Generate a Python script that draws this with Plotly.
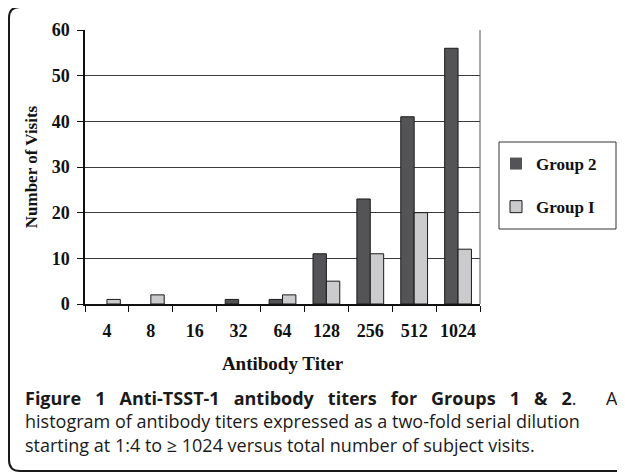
import plotly.graph_objects as go

titers = ["4", "8", "16", "32", "64", "128", "256", "512", "1024"]
group2 = [0, 0, 0, 1, 1, 11, 23, 41, 56]
group1 = [1, 2, 0, 0, 2, 5, 11, 20, 12]
y_ticks = [0, 10, 20, 30, 40, 50, 60]

caption_line1_words = ["Figure", "1", "Anti-TSST-1", "antibody", "titers", "for",
                       "Groups", "1", "&amp;", "2"]
caption_line1_end = "A"
caption_line2 = "histogram of antibody titers expressed as a two-fold serial dilution"
caption_line3 = "starting at 1:4 to ≥ 1024 versus total number of subject visits."

# page coordinates (body has an 8px margin)
OFF = 8
PW, PH = 625, 473
L, R, T, B = 85, 480, 30, 304
W, H = PW - OFF, PH - OFF

def px(x):
    return (x - L) / (R - L)

def py(y):
    return (B - y) / (B - T)

serif = "Liberation Serif"
ink = "#111111"

def outline(vals):
    return [1 if v > 0 else 0 for v in vals]

fig = go.Figure()
fig.add_trace(go.Bar(x=titers, y=group2, name="<b>Group 2</b>",
                     marker=dict(color="#545456", line=dict(color="#1a1a1a", width=outline(group2))),
                     legendgroup="a"))
fig.add_trace(go.Bar(x=titers, y=group1, name="<b>Group I</b>",
                     marker=dict(color="#cbcbcd", line=dict(color="#1a1a1a", width=outline(group1))),
                     legendgroup="b"))

shapes = []
shapes.append(dict(type="line", xref="paper", yref="paper", x0=1, x1=1, y0=0, y1=1,
                   line=dict(color="#555555", width=1)))
shapes.append(dict(type="rect", xref="paper", yref="paper",
                   x0=px(499), x1=px(616), y0=py(229), y1=py(142),
                   line=dict(color="#333333", width=1)))
r = 11
x0, y0 = 9, 7
ybot = 471
path = (f"M {px(PW+5)},{py(y0)} L {px(x0+r)},{py(y0)} "
        f"Q {px(x0)},{py(y0)} {px(x0)},{py(y0+r)} "
        f"L {px(x0)},{py(ybot-r)} Q {px(x0)},{py(ybot)} {px(x0+r)},{py(ybot)} "
        f"L {px(PW+5)},{py(ybot)}")
shapes.append(dict(type="path", xref="paper", yref="paper", path=path,
                   line=dict(color="#1a1a1a", width=2)))

cap_font = dict(family="Open Sans", size=18, color="#1a1a1a")
gap = " &nbsp;&nbsp;"  # justified-looking word spacing
line1 = "<b>" + gap.join(caption_line1_words) + "</b>."
caption = "<br>".join([line1, caption_line2, caption_line3])
annotations = [
    dict(text=caption, xref="paper", yref="paper", align="left",
         x=px(23), y=py(384), xanchor="left", yanchor="top",
         showarrow=False, font=cap_font),
    dict(text=caption_line1_end, xref="paper", yref="paper",
         x=px(620), y=py(384), xanchor="right", yanchor="top",
         showarrow=False, font=cap_font),
]

fig.update_layout(
    width=W, height=H,
    margin=dict(l=L - OFF, r=PW - R, t=T - OFF, b=PH - B, autoexpand=False),
    paper_bgcolor="white", plot_bgcolor="white",
    barmode="group", bargap=0.39, bargroupgap=0,
    showlegend=True,
    legend=dict(x=px(496), y=py(146), xanchor="left", yanchor="top",
                xref="paper", yref="paper",
                font=dict(family=serif, size=17, color=ink),
                bgcolor="rgba(0,0,0,0)", borderwidth=0,
                traceorder="grouped", tracegroupgap=18, itemwidth=30),
    shapes=shapes,
    annotations=annotations,
    font=dict(family=serif, color=ink),
)
fig.update_xaxes(
    type="category", tickson="boundaries", ticks="outside", ticklen=6,
    tickcolor=ink, showline=True, linecolor=ink, linewidth=1.5,
    tickvals=titers, ticktext=[f"<b>{t}</b>" for t in titers], tickangle=0,
    tickfont=dict(family=serif, size=18, color=ink), ticklabelstandoff=10,
    title=dict(text="<b>Antibody Titer</b>", font=dict(family=serif, size=19, color=ink),
               standoff=16),
    showgrid=False, fixedrange=True,
)
fig.update_yaxes(
    range=[0, 60], tickvals=y_ticks, ticktext=[f"<b>{v}</b>" for v in y_ticks],
    ticks="outside", ticklen=6, tickcolor=ink,
    showline=True, linecolor=ink, linewidth=1.5,
    showgrid=True, gridcolor="#3a3a3a", gridwidth=1, zeroline=False,
    tickfont=dict(family=serif, size=18, color=ink), ticklabelstandoff=4,
    title=dict(text="<b>Number of Visits</b>", font=dict(family=serif, size=17, color=ink),
               standoff=10),
)

fig.write_html("out.html")
